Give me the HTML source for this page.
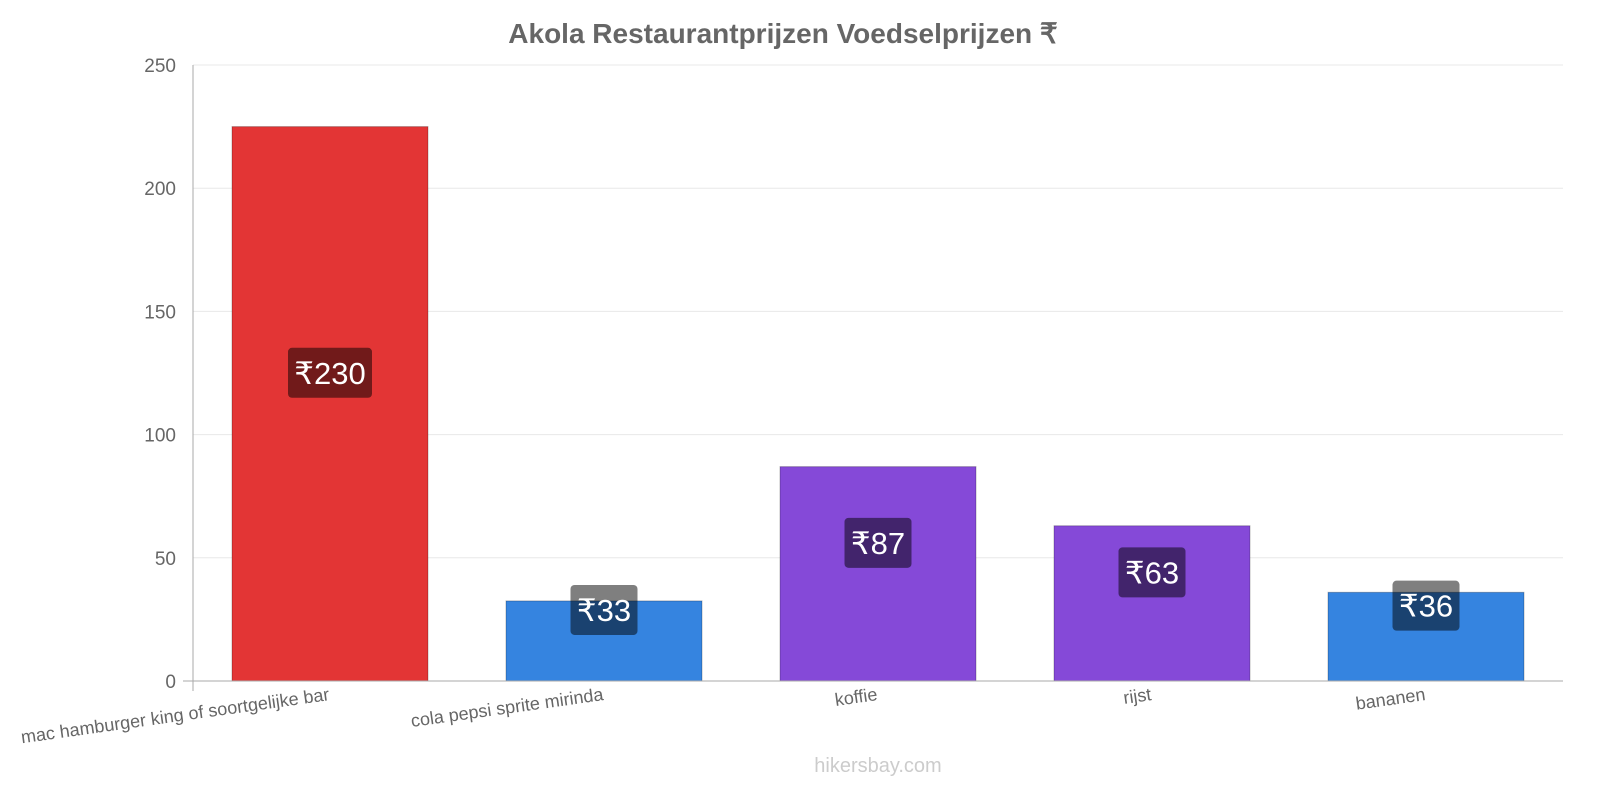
<!DOCTYPE html>
<html><head><meta charset="utf-8"><style>
body{margin:0;background:#fff;font-family:"Liberation Sans",sans-serif}
</style></head><body>
<svg width="1600" height="800" xmlns="http://www.w3.org/2000/svg" font-family="Liberation Sans, sans-serif">
<text x="783" y="43" text-anchor="middle" font-size="28" font-weight="bold" fill="#666">Akola Restaurantprijzen Voedselprijzen ₹</text>
<g id="grid"></g><g id="bars"></g><g id="xlabels"></g>
<line x1="193" y1="65" x2="193" y2="691" stroke="#aaa"/>
<line x1="183" y1="681" x2="1563" y2="681" stroke="#aaa"/>
<text x="878" y="772" text-anchor="middle" font-size="20" fill="#ccc">hikersbay.com</text>
</svg>
<script>
const categories=["mac hamburger king of soortgelijke bar","cola pepsi sprite mirinda","koffie","rijst","bananen"];
const values=[225,32.5,87,63,36];
const valueLabels=["₹230","₹33","₹87","₹63","₹36"];
const colors=["#e33535","#3584e0","#8549d8","#8549d8","#3584e0"];
const yTicks=[0,50,100,150,200,250];
const NS="http://www.w3.org/2000/svg";
const x0=193,step=274,bw=196,yBase=681,yTop=65,yMax=250;
const y=v=>yBase-(v/yMax)*(yBase-yTop);
function mk(t,a,p){const e=document.createElementNS(NS,t);for(const k in a)e.setAttribute(k,a[k]);p.appendChild(e);return e;}
const grid=document.getElementById('grid');
yTicks.forEach(t=>{
 const l=mk('line',{x1:193,x2:1563,y1:y(t),y2:y(t),stroke:t?'#e8e8e8':'none'},grid);
 
 
 const tx=mk('text',{x:176,y:y(t)+7,'text-anchor':'end','font-size':19,fill:'#666'},grid);
 tx.textContent=t;
 
 
});
const bars=document.getElementById('bars'),xl=document.getElementById('xlabels');
values.forEach((v,i)=>{
 const cx=x0+step*i+step/2;
 const r=mk('rect',{x:cx-bw/2,y:y(v),width:bw,height:yBase-y(v),fill:colors[i],stroke:'rgba(0,0,0,0.25)'},bars);
 
 
 const ly=(y(v)+yBase)/2-31;
 const w=valueLabels[i].length*17+16;
 const b=mk('rect',{x:cx-w/2,y:ly-25,width:w,height:50,rx:4,fill:'rgba(0,0,0,0.5)'},bars);
 
 
 const t=mk('text',{x:cx,y:ly+11,'text-anchor':'middle','font-size':31,fill:'#fff'},bars);
 t.textContent=valueLabels[i];
 
 
 const c=mk('text',{x:cx,y:700,'text-anchor':'end','font-size':18,fill:'#666',transform:`rotate(-8 ${cx} 700)`},xl);
 c.textContent=categories[i];
 
 
});
</script>
</body></html>
